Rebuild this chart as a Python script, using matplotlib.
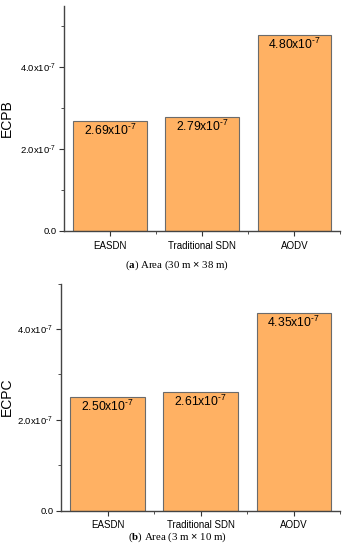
import matplotlib
matplotlib.use("Agg")
import matplotlib.pyplot as plt
from matplotlib.ticker import FixedLocator, MultipleLocator, FuncFormatter

plt.rcParams['font.family'] = ['Liberation Sans', 'DejaVu Sans']
plt.rcParams['mathtext.fontset'] = 'custom'
plt.rcParams['mathtext.rm'] = 'Liberation Sans'
plt.rcParams['mathtext.it'] = 'Liberation Sans:italic'
plt.rcParams['mathtext.bf'] = 'Liberation Serif:bold'

categories = ["EASDN", "Traditional SDN", "AODV"]
ecpb = [2.69e-7, 2.79e-7, 4.80e-7]
ecpc = [2.50e-7, 2.61e-7, 4.35e-7]
ecpb_labels = ["2.69", "2.79", "4.80"]
ecpc_labels = ["2.50", "2.61", "4.35"]
captions = [r"($\mathbf{a}$) Area (30 m $\times$ 38 m)", r"($\mathbf{b}$) Area (3 m $\times$ 10 m)"]

SUP = r"x10$^{\text{-}7}$"

fig = plt.figure(figsize=(3.51, 5.5), dpi=100)
ax1 = fig.add_axes([64/351, 1-231/550, (340.5-64)/351, (231-6)/550])
ax2 = fig.add_axes([61/351, 1-510.7/550, (340.3-61)/351, (510.7-283.5)/550])

bar_color = '#FFB163'
edge_color = '#6b6b6b'

def fmt(v, pos):
    if v == 0:
        return "0.0"
    m = v / 1e-7
    return ("%.1f" % m) + SUP

for ax, vals, labs, ylab, ytop, cap, capy, axl in [
        (ax1, ecpb, ecpb_labels, "ECPB", 5.5e-7, captions[0], 265, 64),
        (ax2, ecpc, ecpc_labels, "ECPC", 5.0e-7, captions[1], 537, 61)]:
    x = list(range(len(categories)))
    ax.bar(x, vals, width=0.8, color=bar_color, edgecolor=edge_color, linewidth=0.8)
    ax.set_xlim(-0.5, 2.5)
    ax.set_ylim(0, ytop)
    ax.set_xticks(x)
    ax.set_xticklabels(categories, fontsize=7)
    ax.xaxis.set_minor_locator(FixedLocator([0.5, 1.5, 2.5]))
    ax.yaxis.set_major_locator(MultipleLocator(2e-7))
    ax.yaxis.set_minor_locator(MultipleLocator(1e-7))
    ax.yaxis.set_major_formatter(FuncFormatter(fmt))
    ax.tick_params(axis='y', labelsize=6.8, pad=2)
    ax.tick_params(which='major', direction='out', length=3.5, width=0.8, color='#333333')
    ax.tick_params(which='minor', direction='out', length=2, width=0.6, color='#333333')
    for s in ['top', 'right']:
        ax.spines[s].set_visible(False)
    for s in ['left', 'bottom']:
        ax.spines[s].set_linewidth(1.0)
        ax.spines[s].set_color('#444444')
    ax.set_ylabel(ylab, fontsize=10)
    w = ax.get_position().width * 351
    ax.yaxis.set_label_coords((14 - axl) / w, 0.5)
    for xi, v, l in zip(x, vals, labs):
        ax.annotate(l + SUP, (xi, v), xytext=(0, -1.5), textcoords='offset points',
                    ha='center', va='top', fontsize=8.8)
    fig.text(0.505, 1 - capy/550, cap, ha='center', va='center', fontsize=7.8,
             family='Liberation Serif')

fig.savefig("out.png", dpi=100)
